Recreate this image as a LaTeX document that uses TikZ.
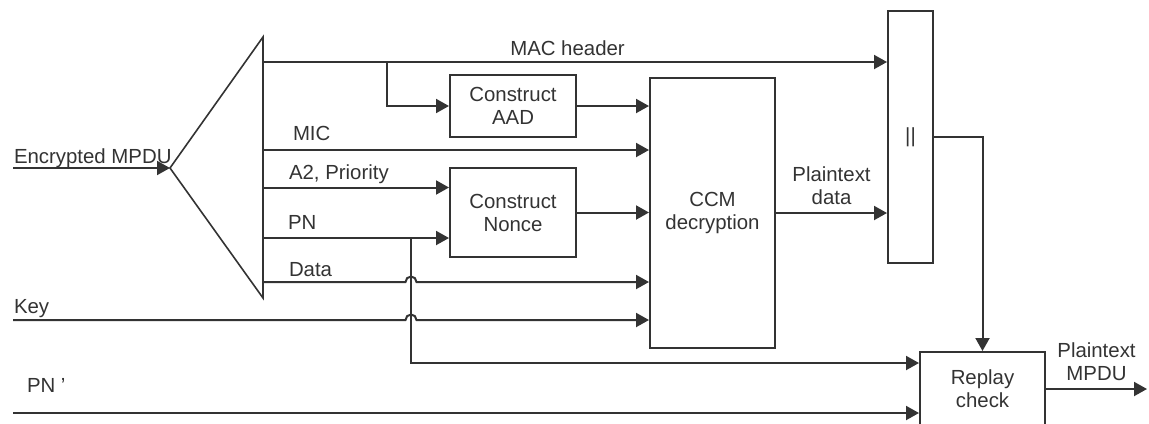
\documentclass[tikz,border=0pt]{standalone}
\usepackage{fontspec}
\setmainfont{Liberation Sans}
\usetikzlibrary{arrows.meta}
\begin{document}
\begin{tikzpicture}[x=.5pt,y=-.5pt,line width=1pt,draw=black!80,
  every node/.style={text=black!80,font=\fontsize{10.2}{11.5}\selectfont},
  blk/.style={draw,inner sep=0,align=center},
  arr/.style={-{Triangle[length=6.5pt,width=7pt]}},
  lbl/.style={anchor=base west,inner sep=0}]
\useasboundingbox (0,0) rectangle (1149,423); \clip (0,0) rectangle (1149,423);
\node[blk,minimum width=63pt,minimum height=31pt] (aad) at (513,106) {Construct\\AAD};
\node[blk,minimum width=63pt,minimum height=44.5pt] (nonce) at (513,212.5) {Construct\\Nonce};
\node[blk,minimum width=62.5pt,minimum height=135pt] (ccm) at (712.5,213) {CCM\\decryption};
\node[blk,minimum width=22.5pt,minimum height=126pt] (cat) at (910.5,137) {||};
\node[blk,minimum width=62.5pt,minimum height=37pt] (replay) at (982.5,389) {Replay\\check};
\coordinate (apex) at (170,168); \coordinate (dtop) at (263,37); \coordinate (dbot) at (263,298);
\coordinate (mac) at (263,62); \coordinate (mic) at (263,150); \coordinate (a2) at (263,187.5);
\coordinate (pn) at (263,238); \coordinate (data) at (263,282);
\coordinate (macsplit) at (387,62); \coordinate (pnsplit) at (411,238);
\coordinate (enc) at (13,168); \coordinate (key) at (13,320); \coordinate (pnp) at (13,413);
\coordinate (out) at (1147,389);
\draw[line width=.8pt] (dtop) -- (apex) -- (dbot) -- cycle;
\draw[arr] (enc) node[lbl,yshift=2.5pt] {Encrypted MPDU} -- (apex);
\draw[arr] (mac) -- (mac -| cat.west) node[pos=.488,anchor=base,inner sep=0,yshift=3.5pt] {MAC header};
\draw[arr] (macsplit) |- (aad.west);
\draw[arr] (mic) node[lbl,xshift=14.5pt,yshift=5pt] {MIC} -- (mic -| ccm.west);
\draw[arr] (a2) node[lbl,xshift=12.5pt,yshift=4pt] {A2, Priority} -- (a2 -| nonce.west);
\draw[arr] (pn) node[lbl,xshift=12pt,yshift=4.5pt] {PN} -- (pn -| nonce.west);
\draw[arr] (data) node[lbl,xshift=12.5pt,yshift=3pt] {Data} -- ([xshift=-2.75pt]data -| pnsplit)
  arc[start angle=180,end angle=0,radius=2.75pt] -- (data -| ccm.west);
\draw[arr] (key) node[lbl,yshift=3.5pt] {Key} -- ([xshift=-2.75pt]key -| pnsplit)
  arc[start angle=180,end angle=0,radius=2.75pt] -- (key -| ccm.west);
\draw[arr] (pnsplit) |- ([yshift=13pt]replay.west);
\draw[arr] (pnp) node[lbl,xshift=6.5pt,yshift=10.5pt] {PN '} -- (pnp -| replay.west);
\draw[arr] (aad.east) -- (aad.east -| ccm.west);
\draw[arr] (nonce.east) -- (nonce.east -| ccm.west);
\draw[arr] (ccm.east) -- (ccm.east -| cat.west) node[midway,anchor=south,inner sep=0,yshift=3.5pt,align=center] {Plaintext\\data};
\draw[arr] (cat.east) -| (replay.north);
\draw[arr] (replay.east) -- (out) node[midway,anchor=south,inner sep=0,yshift=3.5pt,align=center] {Plaintext\\MPDU};
\end{tikzpicture}
\end{document}
